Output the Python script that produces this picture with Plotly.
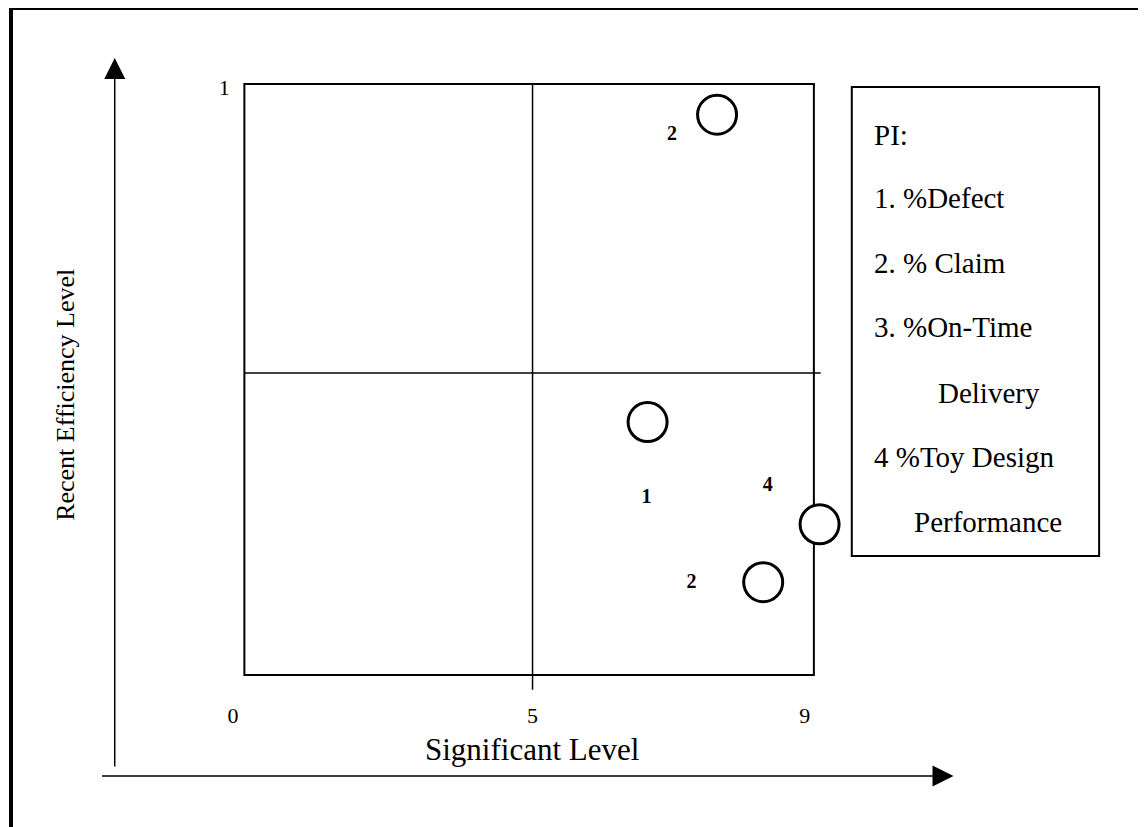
import plotly.graph_objects as go

# ---- data ----
circle_x = [8.30, 7.08, 10.10, 9.11]
circle_y = [0.948, 0.428, 0.255, 0.157]
label_text = ["2", "1", "4", "2"]
label_x = [7.51, 7.06, 9.19, 7.85]
label_y = [0.914, 0.300, 0.320, 0.156]
x_tick_vals = [-0.2, 5.06, 9.84]
x_tick_text = ["0", "5", "9"]
y_tick_vals = [0.995]
y_tick_text = ["1"]
split_x = 5.06
split_y = 0.511
x_title = "Significant Level"
y_title = "Recent Efficiency Level"
legend_lines = ["PI:", "1. %Defect", "2. % Claim", "3. %On-Time", "Delivery",
                "4 %Toy Design", "Performance"]

# the page body adds an 8px margin, so the figure is drawn at (8, 8)
OFF = 8
W, H = 1146 - OFF, 827 - OFF
FONT = "Liberation Serif"


def px(x):
    return (x - OFF) / W


def py(y):
    return 1 - (y - OFF) / H


fig = go.Figure()
fig.add_trace(go.Scatter(
    x=circle_x, y=circle_y, mode="markers",
    marker=dict(size=39, color="white", line=dict(color="black", width=3)),
    cliponaxis=False, hoverinfo="skip", showlegend=False))
fig.add_trace(go.Scatter(
    x=label_x, y=label_y, mode="text", text=label_text,
    textfont=dict(family=FONT, size=20, color="black", weight="bold"),
    cliponaxis=False, hoverinfo="skip", showlegend=False))

shapes = []
# quadrant box
shapes.append(dict(type="rect", xref="x", yref="y", x0=0, x1=10, y0=0, y1=1,
                   line=dict(color="black", width=2), layer="below"))
shapes.append(dict(type="line", xref="x", yref="y", x0=split_x, x1=split_x, y0=-0.025, y1=1,
                   line=dict(color="black", width=1.5), layer="below"))
shapes.append(dict(type="line", xref="x", yref="y", x0=0, x1=10.12, y0=split_y, y1=split_y,
                   line=dict(color="black", width=1.5), layer="below"))
# outer frame (top and left)
shapes.append(dict(type="line", xref="paper", yref="paper", x0=0, x1=1.01, y0=1, y1=1,
                   line=dict(color="black", width=4)))
shapes.append(dict(type="line", xref="paper", yref="paper", x0=0, x1=0, y0=1, y1=-0.01,
                   line=dict(color="black", width=4)))
# legend box
shapes.append(dict(type="rect", xref="paper", yref="paper", x0=px(851), x1=px(1099),
                   y0=py(556), y1=py(87), line=dict(color="black", width=2)))

annotations = []
# axes arrows
annotations.append(dict(xref="paper", yref="paper", x=px(953), y=py(776), text="",
                        showarrow=True, ax=-853, ay=0, arrowhead=2, arrowsize=2.8,
                        arrowwidth=1.5, arrowcolor="black"))
annotations.append(dict(xref="paper", yref="paper", x=px(112), y=py(58), text="",
                        showarrow=True, ax=0, ay=710, arrowhead=2, arrowsize=2.8,
                        arrowwidth=1.5, arrowcolor="black"))
# axis titles
annotations.append(dict(xref="paper", yref="paper", x=px(530), y=py(749), text=x_title,
                        showarrow=False, font=dict(family=FONT, size=31, color="black"),
                        xanchor="center", yanchor="middle"))
annotations.append(dict(xref="paper", yref="paper", x=px(62), y=py(395), text=y_title,
                        showarrow=False, textangle=-90, font=dict(family=FONT, size=26, color="black"),
                        xanchor="center", yanchor="middle"))
# legend text
legend_x_px = [871, 871, 871, 871, 935, 871, 911]
legend_y_px = [135, 198, 263, 327, 393, 457, 522]
for t, lx, ly in zip(legend_lines, legend_x_px, legend_y_px):
    annotations.append(dict(xref="paper", yref="paper", x=px(lx), y=py(ly), text=t,
                            showarrow=False, font=dict(family=FONT, size=29, color="black"),
                            xanchor="left", yanchor="middle"))

# axis pixel mapping (page px): x = 242 + 57.1*x ; y = 675 - 591*y
xr = [-0.24, 10.35]
yr = [-0.03, 1.02]
x_dom = [px(242 + 57.1 * xr[0]), px(242 + 57.1 * xr[1])]
y_dom = [py(675 - 591 * yr[0]), py(675 - 591 * yr[1])]

fig.update_layout(
    width=W, height=H,
    margin=dict(l=0, r=0, t=0, b=0),
    paper_bgcolor="white", plot_bgcolor="white",
    shapes=shapes, annotations=annotations,
    xaxis=dict(range=xr, domain=x_dom, showgrid=False, zeroline=False, showline=False,
               tickvals=x_tick_vals, ticktext=x_tick_text, ticks="",
               tickfont=dict(family=FONT, size=22, color="black"), ticklabelstandoff=7),
    yaxis=dict(range=yr, domain=y_dom, showgrid=False, zeroline=False, showline=False,
               tickvals=y_tick_vals, ticktext=y_tick_text, ticks="",
               tickfont=dict(family=FONT, size=22, color="black"), ticklabelstandoff=0),
    showlegend=False,
)

fig.write_html("out.html")
